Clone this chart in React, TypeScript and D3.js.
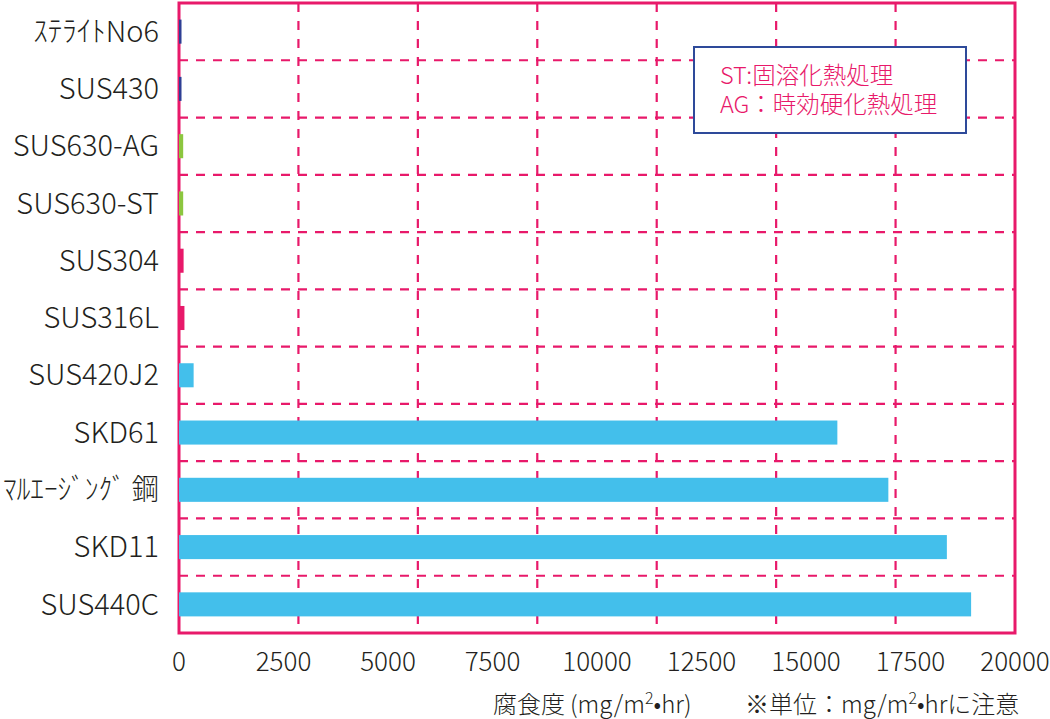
import * as d3 from "d3";

const categories = [
  "ｽﾃﾗｲﾄNo6",
  "SUS430",
  "SUS630-AG",
  "SUS630-ST",
  "SUS304",
  "SUS316L",
  "SUS420J2",
  "SKD61",
  "ﾏﾙｴｰｼﾞﾝｸﾞ 鋼",
  "SKD11",
  "SUS440C",
];
// corrosion rate, mg/m2・hr
const values = [60, 60, 100, 100, 110, 130, 350, 15750, 16970, 18370, 18950];
const groups = ["navy", "navy", "green", "green", "pink", "pink", "blue", "blue", "blue", "blue", "blue"];
const tickValues = [0, 2500, 5000, 7500, 10000, 12500, 15000, 17500, 20000];
const legendLines = ["ST:固溶化熱処理", "AG：時効硬化熱処理"];

const colorOf: Record<string, string> = {
  navy: "#2e3f94",
  green: "#8cc63f",
  pink: "#e8196a",
  blue: "#43bfeb",
};

const PINK = "#e8196a";
const INK = "#231f20";
const FONT = "'Noto Sans CJK JP', 'Noto Sans', sans-serif";

const W = 1050;
const H = 719;
const plot = { left: 179, right: 1015, top: 3, bottom: 633 };

export default function App() {
  const x = d3.scaleLinear().domain([0, 20000]).range([plot.left, plot.right]);
  const y = d3
    .scaleBand<string>()
    .domain(categories)
    .range([plot.top, plot.bottom])
    .paddingInner(0.58)
    .paddingOuter(0.29);
  const rows = d3.scaleBand<string>().domain(categories).range([plot.top, plot.bottom]);
  // the vertical grid splits the plot into 7 equal columns (not on the ticks)
  const cols = d3.scaleLinear().domain([0, 7]).range([plot.left, plot.right]);

  return (
    <svg
      width={W}
      height={H}
      style={{ position: "absolute", left: 0, top: 0, background: "#fff" }}
      fontFamily={FONT}
      fontWeight={300}
    >
      {/* grid */}
      {d3.range(1, 7).map((i) => (
        <line
          key={"v" + i}
          x1={cols(i)}
          x2={cols(i)}
          y1={plot.top}
          y2={plot.bottom}
          stroke={PINK}
          strokeWidth={2.2}
          strokeDasharray="9 9"
        />
      ))}
      {categories.slice(1).map((c) => (
        <line
          key={"h" + c}
          x1={plot.left}
          x2={plot.right}
          y1={rows(c)!}
          y2={rows(c)!}
          stroke={PINK}
          strokeWidth={2.2}
          strokeDasharray="9 8"
        />
      ))}

      {/* frame */}
      <rect
        x={plot.left}
        y={plot.top}
        width={plot.right - plot.left}
        height={plot.bottom - plot.top}
        fill="none"
        stroke={PINK}
        strokeWidth={3}
      />

      {/* bars (drawn over the frame, as in the original) */}
      {categories.map((c, i) => (
        <rect
          key={"b" + c}
          x={x(0)}
          y={y(c)!}
          width={x(values[i]) - x(0)}
          height={y.bandwidth()}
          fill={colorOf[groups[i]]}
        />
      ))}

      {/* category labels */}
      {categories.map((c) => (
        <text
          key={"l" + c}
          x={159}
          y={rows(c)! + rows.bandwidth() / 2}
          dy="0.35em"
          textAnchor="end"
          fontSize={29}
          fill={INK}
          {...(c.length > 9 && /[ｱ-ﾝ]/.test(c) ? { textLength: 156, lengthAdjust: "spacingAndGlyphs" } : {})}
        >
          {c}
        </text>
      ))}

      {/* tick labels */}
      {tickValues.map((t) => (
        <text key={"t" + t} x={x(t)} y={671} textAnchor="middle" fontSize={26} fill={INK}>
          {t}
        </text>
      ))}

      {/* axis title */}
      <text x={493} y={713} fontSize={24} fill={INK}>
        腐食度
        <tspan dx={5}>(mg/m</tspan>
        <tspan fontSize={16} dy={-9}>2</tspan>
        <tspan dy={9}>•hr)</tspan>
      </text>
      <text x={745} y={713} fontSize={24} fill={INK}>
        ※単位：mg/m
        <tspan fontSize={16} dy={-9}>2</tspan>
        <tspan dy={9}>•hrに注意</tspan>
      </text>

      {/* legend */}
      <rect x={694} y={47} width={272} height={86} fill="#fff" stroke="#2e4a9a" strokeWidth={2} />
      {legendLines.map((s, i) => (
        <text key={"g" + i} x={720} y={84 + i * 29} fontSize={23.5} fill={PINK}>
          {s}
        </text>
      ))}
    </svg>
  );
}
